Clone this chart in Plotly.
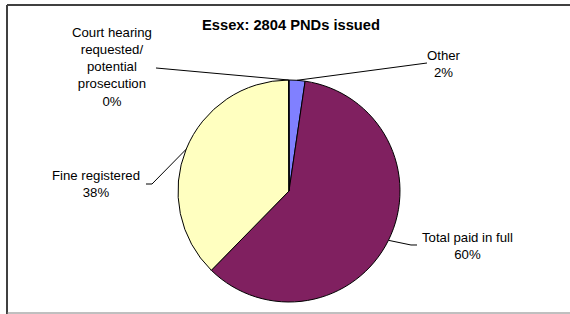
import math
import plotly.graph_objects as go

# ---- data ----
categories = ["Other", "Total paid in full", "Fine registered",
              "Court hearing requested/ potential prosecution"]
label_text = ["Other", "Total paid in full", "Fine registered",
              "Court hearing<br>requested/<br>potential<br>prosecution"]
counts = [65, 1683, 1054, 2]
colors = ["#8080FF", "#802060", "#FFFFC0", "#A0E0E0"]
title = "Essex: 2804 PNDs issued"

W, H = 570, 314
CX, CY, R = 289, 191, 111          # pie centre / radius in px

def px(x):
    return x / W

def py(y):
    return 1 - y / H

FONT = "Liberation Sans, Arial, sans-serif"

fig = go.Figure(go.Pie(
    labels=categories,
    values=counts,
    sort=False,
    direction="clockwise",
    rotation=0,
    marker=dict(colors=colors, line=dict(color="black", width=1)),
    textinfo="none",
    hoverinfo="label+percent",
    showlegend=False,
    domain=dict(x=[px(CX - R), px(CX + R)], y=[py(CY + R), py(CY - R)]),
))

# label positions (px) and leader-line label-side points
label_pos = [(444, 64), (467, 246), (96, 184), (112, 67)]
leader_pts = [
    [(427, 63)],
    [(417, 245), (411, 245)],
    [(146, 184), (152, 184)],
    [(156, 68)],
]

total = sum(counts)
cum = 0.0
annotations = []
shapes = []
for i, v in enumerate(counts):
    frac = v / total
    mid = (cum + frac / 2) * 2 * math.pi
    cum += frac
    ax = CX + R * math.sin(mid)
    ay = CY - R * math.cos(mid)
    pct = round(frac * 100)
    lx, ly = label_pos[i]
    annotations.append(dict(
        x=px(lx), y=py(ly), xref="paper", yref="paper",
        text=f"{label_text[i]}<br>{pct}%", showarrow=False,
        xanchor="center", yanchor="middle", align="center",
        font=dict(family=FONT, size=13.2, color="black"),
    ))
    pts = leader_pts[i] + [(ax, ay)]
    path = "M " + " L ".join(f"{px(x):.5f},{py(y):.5f}" for x, y in pts)
    shapes.append(dict(type="path", path=path, xref="paper", yref="paper",
                       line=dict(color="black", width=1)))

# chart-area border (top/left dark, bottom grey; right edge cropped)
shapes.append(dict(type="line", xref="paper", yref="paper",
                   x0=px(7), x1=px(575), y0=py(5), y1=py(5),
                   line=dict(color="#404040", width=2)))
shapes.append(dict(type="line", xref="paper", yref="paper",
                   x0=px(7), x1=px(7), y0=py(5), y1=py(320),
                   line=dict(color="#404040", width=2)))
shapes.append(dict(type="line", xref="paper", yref="paper",
                   x0=px(7), x1=px(575), y0=py(313), y1=py(313),
                   line=dict(color="#808080", width=1)))

annotations.append(dict(
    x=px(291), y=py(25), xref="paper", yref="paper",
    text=f"<b>{title}</b>", showarrow=False,
    xanchor="center", yanchor="middle",
    font=dict(family=FONT, size=14.7, color="black"),
))

fig.update_layout(
    width=W, height=H,
    margin=dict(l=0, r=0, t=0, b=0),
    paper_bgcolor="white", plot_bgcolor="white",
    annotations=annotations, shapes=shapes,
)

fig.write_html(
    "out.html",
    config={"displayModeBar": False},
    post_script="document.body.style.margin='0';document.body.style.overflow='hidden';",
)
